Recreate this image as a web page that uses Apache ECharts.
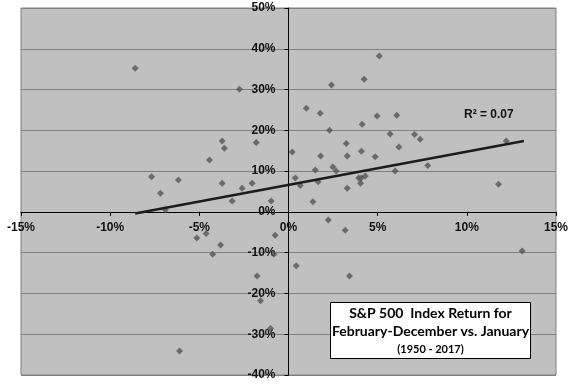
<!DOCTYPE html>
<html>
<head>
<meta charset="utf-8">
<script src="https://cdn.jsdelivr.net/npm/echarts@6/dist/echarts.min.js"></script>
<style>
html,body{margin:0;padding:0;background:#fff;}
#chart{width:576px;height:384px;}
</style>
</head>
<body>
<div id="chart"></div>
<script>
// January return (%) vs. February-December return (%), S&P 500, 1950-2017
const janReturns = [
  -8.6, -2.75, 1.0, 1.78, 2.41, 4.24, 5.09, 4.13, 4.97, 2.3,
  6.07, -7.68, -7.18, -6.17, -6.9, -5.14, -4.62, -4.43, -3.81, -4.25,
  -3.72, -3.6, -3.72, -3.16, -2.6, -2.04, -1.81, -0.97, -0.75, 0.21,
  0.38, 0.66, 1.37, 1.5, 1.66, 1.8, 2.23, 2.49, 2.67, 3.18,
  3.24, 3.29, 3.29, 3.94, 4.04, 4.09, 4.08, 4.3, 4.86, 5.7,
  6.19, 5.98, 7.07, 7.38, 7.81, 11.78, 12.21, 13.1, -1.76, -1.57,
  -1.01, 0.43, 3.42, -0.82, -6.11
];
const febDecReturns = [
  35.2, 30.1, 25.4, 24.2, 31.1, 32.5, 38.2, 21.5, 23.5, 20.0,
  23.7, 8.6, 4.6, 7.8, 0.5, -6.4, -5.3, 12.7, -8.1, -10.4,
  17.4, 15.6, 7.0, 2.7, 5.8, 7.0, 17.0, 2.7, -5.7, 14.7,
  8.3, 6.5, 2.5, 10.3, 7.4, 13.7, -2.0, 11.0, 10.0, -4.5,
  16.8, 13.7, 5.8, 8.3, 7.0, 14.9, 8.3, 8.8, 13.5, 19.1,
  15.9, 10.0, 19.0, 17.8, 11.4, 6.8, 17.4, -9.6, -15.7, -21.8,
  -28.6, -13.2, -15.7, -10.4, -34.1
];
// Linear trendline endpoints
const trendX = [-8.6, 13.2];
const trendY = [-0.4, 17.4];
const rSquaredText = 'R² = 0.07';
const titleLines = ['S&P 500  Index Return for', 'February-December vs. January', '(1950 - 2017)'];

const xTicks = {min: -15, max: 15, interval: 5};
const yTicks = {min: -40, max: 50, interval: 10};

const points = janReturns.map((x, i) => [x, febDecReturns[i]]);
const trend = trendX.map((x, i) => [x, trendY[i]]);

const W = 576, H = 384;
const G = {left: 21, right: 20, top: 8, bottom: 9};
const plotW = W - G.left - G.right;
const plotH = H - G.top - G.bottom;
// place axes through zero
const xAxisOffset = -plotH * (0 - yTicks.min) / (yTicks.max - yTicks.min);
const yAxisOffset = -plotW * (0 - xTicks.min) / (xTicks.max - xTicks.min);

const chart = echarts.init(document.getElementById('chart'), null, {renderer: 'canvas'});
const axisFont = {fontFamily: '"Liberation Sans", Arial, sans-serif', fontSize: 12, fontWeight: 'bold', color: '#111'};
chart.setOption({
  animation: false,
  backgroundColor: '#fff',
  grid: Object.assign({show: true, backgroundColor: '#c0c0c0', borderColor: '#808080', borderWidth: 1, containLabel: false, outerBoundsMode: 'none'}, G),
  xAxis: {
    type: 'value', min: xTicks.min, max: xTicks.max, interval: xTicks.interval,
    position: 'bottom', offset: xAxisOffset,
    axisLine: {onZero: false, lineStyle: {color: '#000', width: 1}},
    axisTick: {show: true, inside: false, length: 4, lineStyle: {color: '#000'}},
    axisLabel: Object.assign({margin: 10, formatter: v => v + '%'}, axisFont),
    splitLine: {show: false}
  },
  yAxis: {
    type: 'value', min: yTicks.min, max: yTicks.max, interval: yTicks.interval,
    position: 'left', offset: yAxisOffset,
    axisLine: {onZero: false, lineStyle: {color: '#000', width: 1}},
    axisTick: {show: true, inside: false, length: 4, lineStyle: {color: '#000'}},
    axisLabel: Object.assign({margin: 13, formatter: v => v + '%'}, axisFont),
    splitLine: {show: true, lineStyle: {color: '#808080', width: 1}}
  },
  series: [
    {
      type: 'scatter', data: points, symbol: 'diamond', symbolSize: 7,
      itemStyle: {color: '#555555'}, z: 3
    },
    {
      type: 'line', data: trend, symbol: 'none', lineStyle: {color: '#1c1c1c', width: 2.5}, z: 4
    }
  ],
  graphic: [
    {type: 'text', left: 464, top: 109, style: {text: rSquaredText, font: 'bold 12px "Liberation Sans", Arial, sans-serif', fill: '#111'}},
    {type: 'rect', shape: {x: 330.5, y: 302.5, width: 200, height: 56}, style: {fill: '#fff', stroke: '#000', lineWidth: 1}, z: 10},
    {type: 'text', x: 430.5, y: 313, style: {text: titleLines[0], font: 'bold 14px Lato, "Open Sans", sans-serif', fill: '#000', align: 'center', verticalAlign: 'middle'}, z: 11},
    {type: 'text', x: 430.5, y: 331, style: {text: titleLines[1], font: 'bold 14px Lato, "Open Sans", sans-serif', fill: '#000', align: 'center', verticalAlign: 'middle'}, z: 11},
    {type: 'text', x: 430.5, y: 349, style: {text: titleLines[2], font: 'bold 11px Lato, "Open Sans", sans-serif', fill: '#000', align: 'center', verticalAlign: 'middle'}, z: 11}
  ]
});
</script>
</body>
</html>
